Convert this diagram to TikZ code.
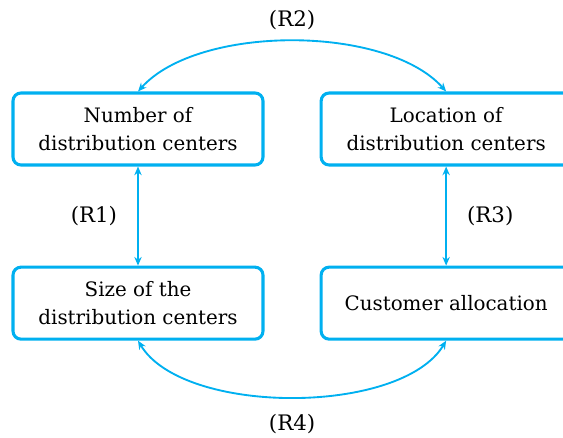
\documentclass[tikz,border=0pt]{standalone}
\usepackage{fontspec}
\setmainfont{DejaVu Serif}
\usepackage{tikz}
\usetikzlibrary{positioning,arrows.meta}
\definecolor{linkblue}{RGB}{0,176,240}
\tikzset{
  box/.style ={rectangle, rounded corners=6pt, draw=linkblue, line width=2.3pt, fill=white,
               minimum width=187.5pt, minimum height=54pt, align=center,
               font=\fontsize{14.9pt}{21.5pt}\selectfont},
  link/.style={{Stealth[length=6.5pt,width=5.5pt]}-{Stealth[length=6.5pt,width=5.5pt]}, line width=1.4pt, draw=linkblue},
  tag/.style ={font=\fontsize{16pt}{19pt}\selectfont, inner sep=0pt},
}

\begin{document}
\begin{tikzpicture}[x=0.75pt, y=-0.75pt, node distance=74.3pt and 41.3pt]
\useasboundingbox (0,0) rectangle (563,437);
\node[box] (num) at (138,129) {Number of\\ distribution centers};
\node[box, right=of num] (loc) {Location of\\ distribution centers};
\node[box, below=of num] (size) {Size of the\\ distribution centers};
\node[box, below=of loc] (cust) {Customer allocation};
\draw[link] (num) -- (size) node[midway, left=15pt, tag] {(R1)};
\draw[link] (loc) -- (cust) node[midway, right=15pt, tag] {(R3)};
\draw[link] (num.north) .. controls +(60,-67) and +(-60,-67) .. (loc.north)
  node[midway, above=8pt, tag] {(R2)};
\draw[link] (size.south) .. controls +(45,75) and +(-45,75) .. (cust.south)
  node[midway, below=12pt, tag] {(R4)};
\end{tikzpicture}
\end{document}
